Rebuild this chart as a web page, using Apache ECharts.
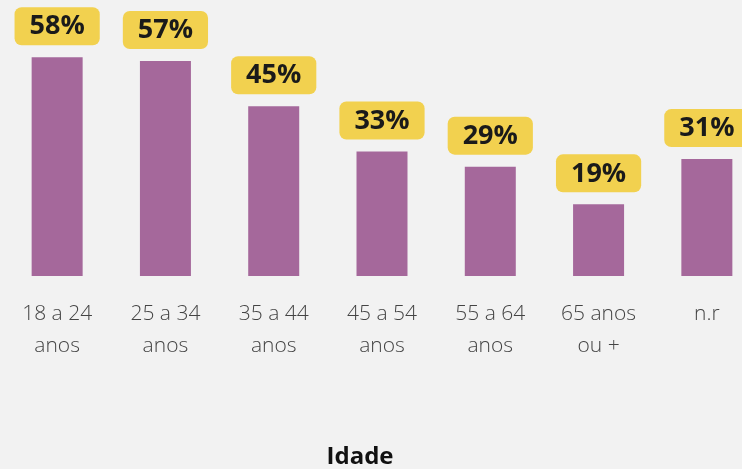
<!DOCTYPE html>
<html>
<head>
<meta charset="utf-8">
<script src="https://cdn.jsdelivr.net/npm/echarts@6/dist/echarts.min.js"></script>
<style>
  html, body { margin: 0; padding: 0; background: #f2f2f2; overflow: hidden; }
  #chart { width: 765px; height: 469px; }
</style>
</head>
<body>
<div id="chart"></div>
<script>
// faixas etárias e percentuais
const categorias = ['18 a 24\nanos', '25 a 34\nanos', '35 a 44\nanos', '45 a 54\nanos', '55 a 64\nanos', '65 anos\nou +', 'n.r'];
const valores = [58, 57, 45, 33, 29, 19, 31];
const tituloEixo = 'Idade';

const chart = echarts.init(document.getElementById('chart'));

// o gráfico original está cortado à direita, por isso o div é mais largo que a janela
chart.setOption({
  backgroundColor: '#f2f2f2',
  animation: false,
  grid: { left: 3, right: 4, top: 12, bottom: 193 },
  xAxis: {
    type: 'category',
    data: categorias,
    axisLine: { show: false },
    axisTick: { show: false },
    axisLabel: {
      color: '#444',
      fontFamily: 'Open Sans',
      fontWeight: 300,
      fontSize: 21,
      lineHeight: 32,
      margin: 22
    }
  },
  yAxis: {
    type: 'value',
    min: 0,
    max: 70,
    show: false
  },
  graphic: [{
    type: 'text',
    x: 360,
    y: 457,
    style: {
      text: tituloEixo,
      font: 'bold 24px "Open Sans"',
      fill: '#111',
      textAlign: 'center',
      textVerticalAlign: 'middle'
    }
  }],
  series: [{
    type: 'bar',
    data: valores,
    barWidth: 51,
    itemStyle: { color: '#a5689b' },
    label: {
      show: true,
      position: 'top',
      distance: 12,
      formatter: '{c}%',
      backgroundColor: '#f2d14f',
      borderRadius: 7,
      padding: [6, 15, 5, 15],
      color: '#1a1a1a',
      fontFamily: 'Open Sans',
      fontWeight: 'bold',
      fontSize: 27
    }
  }]
});
</script>
</body>
</html>
